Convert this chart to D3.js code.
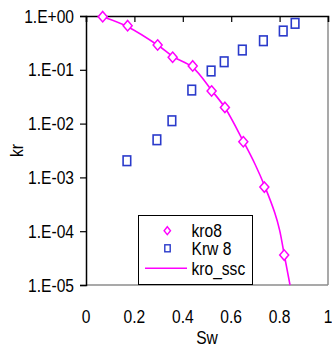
<!DOCTYPE html>
<html><head><meta charset="utf-8">
<script src="https://cdn.jsdelivr.net/npm/d3@7"></script>
<style>
html,body{margin:0;padding:0;background:#fff;}
text{font-family:"Liberation Sans",Arial,sans-serif;font-size:15.6px;fill:#000;}
</style></head>
<body><svg id="c" width="332" height="352"></svg>
<script>
// kro8 measured points
const kroSw = [0.069, 0.172, 0.296, 0.358, 0.441, 0.519, 0.574, 0.650, 0.737, 0.819];
const kroVal = [0.97, 0.66, 0.289, 0.171, 0.118, 0.0404, 0.020, 0.0046, 6.6e-4, 3.6e-5];
// Krw 8 measured points
const krwSw = [0.169, 0.293, 0.355, 0.437, 0.517, 0.571, 0.646, 0.733, 0.815, 0.864];
const krwVal = [2.04e-3, 5.0e-3, 0.0113, 0.042, 0.095, 0.141, 0.233, 0.347, 0.526, 0.73];
// kro_ssc curve
const sscSw = [0.075, 0.17, 0.30, 0.36, 0.44, 0.52, 0.575, 0.65, 0.70, 0.74, 0.78, 0.80, 0.82, 0.843];
const sscVal = [0.95, 0.64, 0.28, 0.175, 0.112, 0.041, 0.0195, 0.0047, 0.0017, 6.6e-4, 2.2e-4, 1.05e-4, 3.5e-5, 1e-5];
const yTicks = [1, 0.1, 0.01, 0.001, 1e-4, 1e-5];
const yTickLabels = ["1.E+00","1.E-01","1.E-02","1.E-03","1.E-04","1.E-05"];
const xTicks = [0, 0.2, 0.4, 0.6, 0.8, 1];
const xTickLabels = ["0","0.2","0.4","0.6","0.8","1"];
const legendLabels = ["kro8","Krw 8","kro_ssc"];

const svg = d3.select("#c");
const L=86, R=328, T=16, B=285, SY=1.18;
const x = d3.scaleLinear().domain([0,1]).range([L,R]);
const y = d3.scaleLog().domain([1e-5,1]).range([B,T]);
const magenta="#ff00ff", blue="#2a3acb", gray="#8c8c8c";
function label(g, txt, px, py, anchor, rot){
  return g.append("text")
    .attr("transform",`translate(${px},${py})${rot?" rotate("+rot+")":""} scale(1,${SY})`)
    .attr("text-anchor",anchor).text(txt);
}

// plot border: bottom & right gray
svg.append("line").attr("x1",L).attr("x2",R).attr("y1",B).attr("y2",B).attr("stroke",gray).attr("stroke-width",1.5);
svg.append("line").attr("x1",R).attr("x2",R).attr("y1",T).attr("y2",B).attr("stroke",gray).attr("stroke-width",1.5);

// top axis (black, inner ticks)
const topAx = svg.append("g").attr("transform",`translate(0,${T})`)
  .call(d3.axisBottom(x).tickValues(xTicks).tickSize(6).tickFormat(""));
topAx.select(".domain").attr("stroke","#000").attr("stroke-width",1.5);
topAx.selectAll(".tick line").attr("stroke","#000").attr("stroke-width",1.2);

// left axis
const leftAx = svg.append("g").attr("transform",`translate(${L},0)`)
  .call(d3.axisLeft(y).tickValues(yTicks).tickSize(6).tickFormat(""));
leftAx.select(".domain").attr("stroke","#000").attr("stroke-width",1.5);
leftAx.selectAll(".tick line").attr("stroke","#000").attr("stroke-width",1.2);

const lbl = svg.append("g");
yTicks.forEach((v,i)=>label(lbl, yTickLabels[i], 74, y(v)+6.5, "end"));
xTicks.forEach((v,i)=>label(lbl, xTickLabels[i], x(v), 323, "middle"));

// axis titles
label(lbl, "Sw", (L+R)/2, 344, "middle");
label(lbl, "kr", 23, (T+B)/2, "middle", -90);

// curve
const curvePts = sscSw.map((s,i)=>[s,sscVal[i]]);
svg.append("path").datum(curvePts)
  .attr("d", d3.line().x(d=>x(d[0])).y(d=>y(d[1])).curve(d3.curveCatmullRom))
  .attr("fill","none").attr("stroke",magenta).attr("stroke-width",1.6);

// diamonds
const diamond = (cx,cy,w,h)=>`M${cx},${cy-h}L${cx+w},${cy}L${cx},${cy+h}L${cx-w},${cy}Z`;
svg.append("g").selectAll("path").data(kroSw.map((s,i)=>[s,kroVal[i]])).join("path")
  .attr("d",d=>diamond(x(d[0]),y(d[1]),4.5,5.2))
  .attr("fill","#fff").attr("stroke",magenta).attr("stroke-width",1.5);

// squares
svg.append("g").selectAll("rect").data(krwSw.map((s,i)=>[s,krwVal[i]])).join("rect")
  .attr("x",d=>x(d[0])-3.8).attr("y",d=>y(d[1])-4.8).attr("width",7.6).attr("height",9.6)
  .attr("fill","#fff").attr("stroke",blue).attr("stroke-width",1.6);

// legend
const lg = svg.append("g");
lg.append("rect").attr("x",138.5).attr("y",215.5).attr("width",114).attr("height",69)
  .attr("fill","#fff").attr("stroke","#000").attr("stroke-width",1);
const rows=[230.7,248.3,268.3];
lg.append("path").attr("d",diamond(167.3,rows[0],3.2,4)).attr("fill","#fff").attr("stroke",magenta).attr("stroke-width",1.4);
lg.append("rect").attr("x",164.8).attr("y",rows[1]-3.5).attr("width",5.4).attr("height",7).attr("fill","#fff").attr("stroke",blue).attr("stroke-width",1.4);
lg.append("line").attr("x1",145).attr("x2",187).attr("y1",rows[2]).attr("y2",rows[2]).attr("stroke",magenta).attr("stroke-width",1.6);
legendLabels.forEach((t,i)=>label(lg, t, 191.5, rows[i]+6.5, "start"));
</script></body></html>
